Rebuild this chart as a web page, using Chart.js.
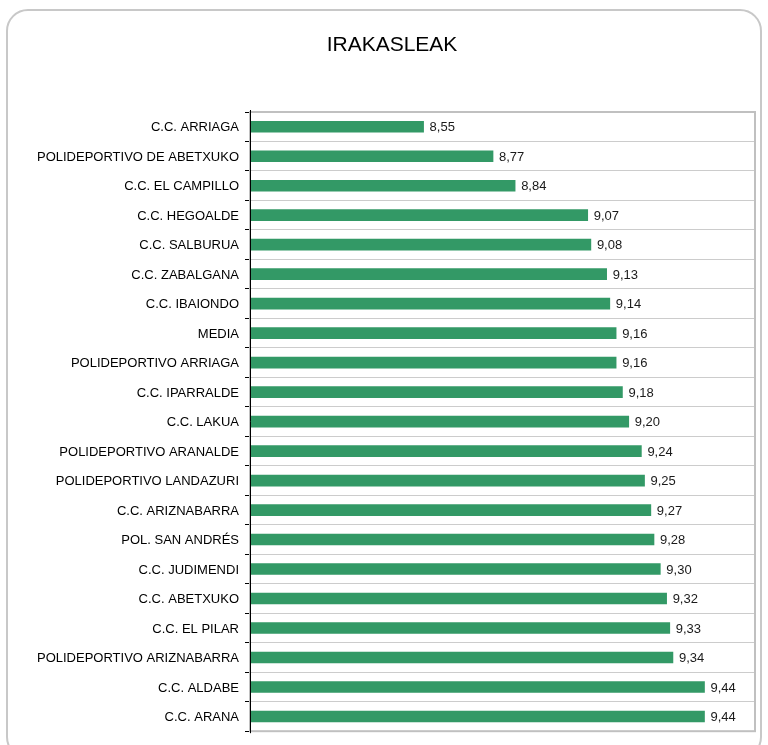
<!DOCTYPE html>
<html><head><meta charset="utf-8">
<script src="https://cdn.jsdelivr.net/npm/chart.js@4"></script>
<style>
html,body{margin:0;padding:0;background:#fff;}
#wrap{position:relative;width:768px;height:745px;}
#frame{position:absolute;left:6px;top:9px;width:756px;height:750px;border:2px solid #c8c8c8;border-radius:22px;box-sizing:border-box;}
canvas{position:absolute;left:0;top:0;}
</style></head>
<body><div id="wrap"><div id="frame"></div><canvas id="c" width="768" height="745"></canvas></div>
<script>
const chartTitle = "IRAKASLEAK";
const categories = ["C.C. ARRIAGA","POLIDEPORTIVO DE ABETXUKO","C.C. EL CAMPILLO","C.C. HEGOALDE","C.C. SALBURUA","C.C. ZABALGANA","C.C. IBAIONDO","MEDIA","POLIDEPORTIVO ARRIAGA","C.C. IPARRALDE","C.C. LAKUA","POLIDEPORTIVO ARANALDE","POLIDEPORTIVO LANDAZURI","C.C. ARIZNABARRA","POL. SAN ANDRÉS","C.C. JUDIMENDI","C.C. ABETXUKO","C.C. EL PILAR","POLIDEPORTIVO ARIZNABARRA","C.C. ALDABE","C.C. ARANA"];
const values = [8.55,8.77,8.84,9.07,9.08,9.13,9.14,9.16,9.16,9.18,9.20,9.24,9.25,9.27,9.28,9.30,9.32,9.33,9.34,9.44,9.44];

const FONT = "'Liberation Sans', Arial, sans-serif";

const decor = {
  id: 'decor',
  beforeDatasetsDraw(chart){
    const {ctx, chartArea:a} = chart;
    ctx.save();
    ctx.strokeStyle = '#c0c0c0';
    ctx.lineWidth = 2;
    ctx.strokeRect(a.left, a.top, a.right - a.left, a.bottom - a.top);
    ctx.restore();
  },
  afterDraw(chart){
    const {ctx, chartArea:a} = chart;
    ctx.save();
    ctx.strokeStyle = '#000';
    ctx.lineWidth = 1;
    ctx.beginPath();
    ctx.moveTo(a.left + 0.5, a.top - 2);
    ctx.lineTo(a.left + 0.5, a.bottom + 2);
    ctx.stroke();
    ctx.fillStyle = '#000';
    ctx.font = "21px " + FONT;
    ctx.textAlign = 'center';
    ctx.textBaseline = 'middle';
    ctx.fillText(chartTitle, 392, 45);
    const meta = chart.getDatasetMeta(0);
    ctx.font = "13px " + FONT;
    ctx.fillStyle = '#1a1a1a';
    ctx.textAlign = 'left';
    meta.data.forEach((bar, i) => {
      ctx.fillText(values[i].toFixed(2).replace('.', ','), bar.x + 6, bar.y + 1);
    });
    ctx.restore();
  }
};

new Chart(document.getElementById('c'), {
  type: 'bar',
  data: {
    labels: categories,
    datasets: [{
      data: values,
      backgroundColor: '#339966',
      borderWidth: 0,
      barThickness: 11
    }]
  },
  options: {
    indexAxis: 'y',
    responsive: false,
    animation: false,
    devicePixelRatio: 1,
    layout: { padding: { left: 0, right: 13, top: 112, bottom: 12 } },
    plugins: { legend: { display: false }, title: { display: false }, tooltip: { enabled: false } },
    scales: {
      x: { display: false, min: 8, max: 9.6 },
      y: {
        afterFit(scale){ scale.width = 250; },
        grid: {
          offset: true,
          color: '#cccccc',
          lineWidth: 1,
          drawTicks: true,
          tickLength: 5,
          tickColor: '#000'
        },
        border: { display: false },
        ticks: {
          color: '#000',
          padding: 6,
          labelOffset: 1,
          autoSkip: false,
          font: { family: FONT, size: 13 }
        }
      }
    }
  },
  plugins: [decor]
});
</script></body></html>
